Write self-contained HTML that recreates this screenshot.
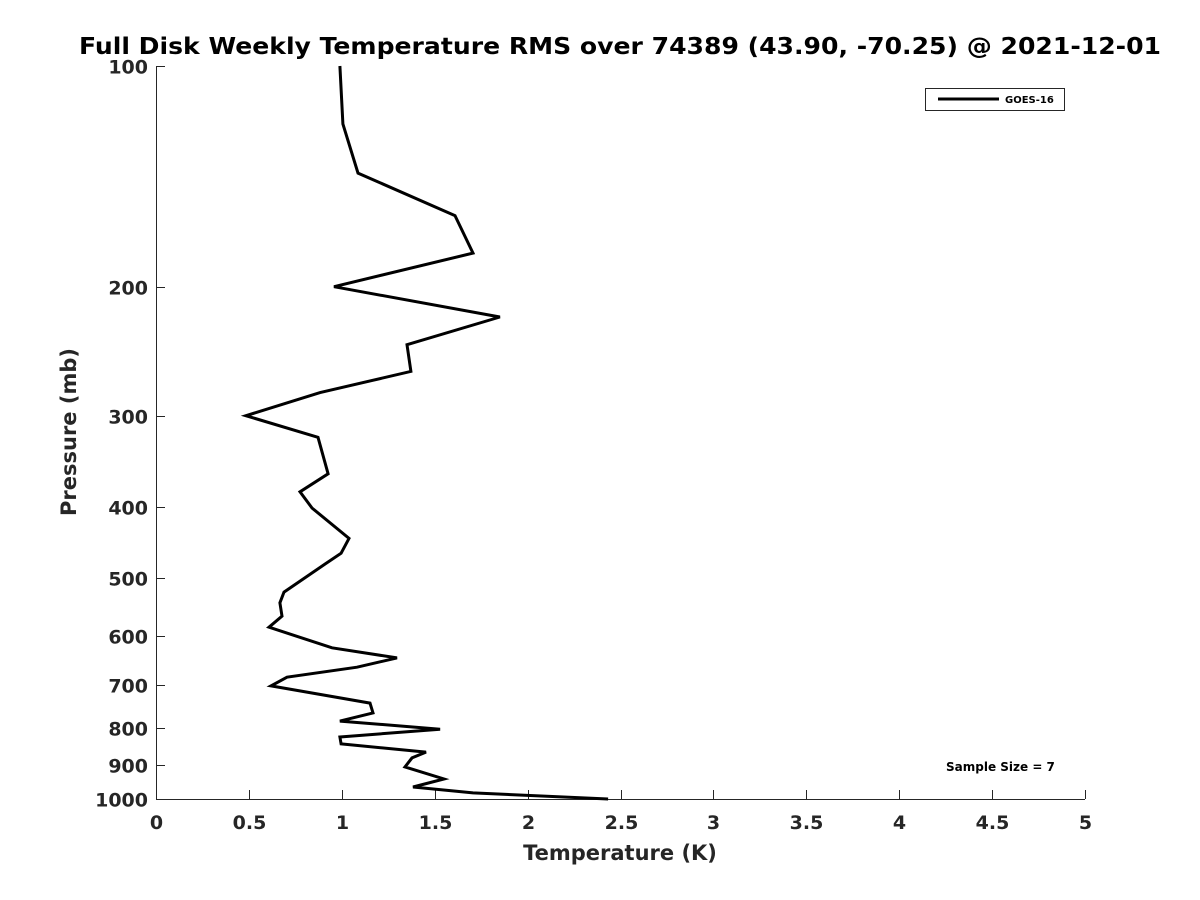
<!DOCTYPE html>
<html><head><meta charset="utf-8"><style>
body{margin:0;background:#fff}
svg{display:block;font-family:"DejaVu Sans","Liberation Sans",sans-serif}
</style></head><body>
<svg id="chart" width="1200" height="900" viewBox="0 0 1200 900">
<rect width="1200" height="900" fill="#fff"/>
<text x="620" y="54" text-anchor="middle" font-size="23" font-weight="bold" textLength="1082" lengthAdjust="spacingAndGlyphs" fill="#000">Full Disk Weekly Temperature RMS over 74389 (43.90, -70.25) @ 2021-12-01</text>
<g id="axes"></g>
<g id="series"></g>
<text x="620" y="860" text-anchor="middle" font-size="21" font-weight="bold" fill="#262626">Temperature (K)</text>
<text transform="translate(76,432) rotate(-90)" text-anchor="middle" font-size="21" font-weight="bold" fill="#262626">Pressure (mb)</text>
<g>
<rect x="925.5" y="88.5" width="139" height="22" fill="#fff" stroke="#262626" stroke-width="1"/>
<line x1="938" y1="99" x2="999" y2="99" stroke="#000" stroke-width="3"/>
<text x="1005" y="103" font-size="10" font-weight="bold" fill="#000">GOES-16</text>
</g>
<text x="946" y="771" font-size="12" font-weight="bold" fill="#000">Sample Size = 7</text>
</svg>
<script>
const pressures=[100,120,140,160,180,200,220,240,261,279,300,321,360,381,401,441,462,478,522,540,563,583,622,642,661,682,701,740,763,783,803,823,841,863,879,904,939,963,981,1000];
const temps=[0.99,1.006,1.087,1.609,1.706,0.958,1.851,1.351,1.372,0.883,0.484,0.872,0.926,0.775,0.840,1.039,0.996,0.910,0.689,0.667,0.678,0.608,0.947,1.297,1.082,0.705,0.619,1.152,1.168,0.990,1.529,0.990,0.996,1.453,1.378,1.340,1.550,1.383,1.706,2.433];
const xTicks=[0,0.5,1,1.5,2,2.5,3,3.5,4,4.5,5];
const xTickLabels=["0","0.5","1","1.5","2","2.5","3","3.5","4","4.5","5"];
const yTicks=[100,200,300,400,500,600,700,800,900,1000];
const yTickLabels=["100","200","300","400","500","600","700","800","900","1000"];

const X0=156,X1=1085,Y0=66,Y1=799;
function xs(v){return X0+(v-0)/(5-0)*(X1-X0);}
function ys(p){return Y0+Math.log10(p/100)/Math.log10(10)*(Y1-Y0);}
const NS="http://www.w3.org/2000/svg";
const axes=document.getElementById('axes');
const series=document.getElementById('series');
function mk(tag,attrs,parent){const e=document.createElementNS(NS,tag);for(const k in attrs)e.setAttribute(k,attrs[k]);parent.appendChild(e);return e;}

const yAxis=mk('line',{x1:X0+0.5,y1:Y0,x2:X0+0.5,y2:Y1,stroke:'#262626','stroke-width':1},axes);


const xAxis=mk('line',{x1:X0,y1:Y1+0.5,x2:X1,y2:Y1+0.5,stroke:'#262626','stroke-width':1},axes);



xTicks.forEach((v,i)=>{
  const x=Math.round(xs(v))+0.5;
  const t=mk('line',{x1:x,y1:Y1,x2:x,y2:Y1-9,stroke:'#262626','stroke-width':1},axes);
  
  
  const l=mk('text',{x:x,y:Y1+30,'text-anchor':'middle','font-size':19,'font-weight':'bold',fill:'#262626'},axes);
  l.textContent=xTickLabels[i];
  
  
});
yTicks.forEach((v,i)=>{
  const y=Math.round(ys(v))+0.5;
  const t=mk('line',{x1:X0,y1:y,x2:X0+9,y2:y,stroke:'#262626','stroke-width':1},axes);
  
  
  const l=mk('text',{x:X0-8,y:y+7,'text-anchor':'end','font-size':19,'font-weight':'bold',fill:'#262626'},axes);
  l.textContent=yTickLabels[i];
  
  
});

const pts=temps.map((t,i)=>xs(t).toFixed(1)+','+ys(pressures[i]).toFixed(1)).join(' ');
const line=mk('polyline',{points:pts,fill:'none',stroke:'#000','stroke-width':3,'stroke-linejoin':'miter'},series);


</script>
</body></html>
